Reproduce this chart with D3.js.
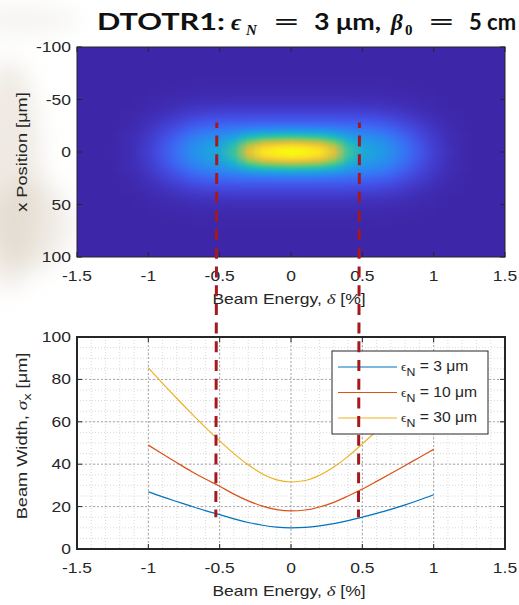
<!DOCTYPE html>
<html>
<head>
<meta charset="utf-8">
<script src="https://cdn.jsdelivr.net/npm/d3@7"></script>
<style>
    body { margin: 0; background: #fff; }
    svg { display: block; }
</style>
</head>
<body>
<script>
const WIDTH = 519, HEIGHT = 605;
const FONT = "'Liberation Sans', Arial, sans-serif";
const SERIF = "'Liberation Serif', 'DejaVu Serif', serif";
const SX = 1.25;      // the figure is stretched along its text lines
const SX_ROT = 1.3;

// heat map samples: energy columns, level of the wide halo and of the bright core
const heatDelta = [-1.5, -1.4, -1.3, -1.2, -1.1, -1.0, -0.9, -0.8, -0.7, -0.6, -0.5, -0.4, -0.3, -0.2, -0.1, 0,
    0.1, 0.2, 0.3, 0.4, 0.5, 0.6, 0.7, 0.8, 0.9, 1.0, 1.1, 1.2, 1.3, 1.4, 1.5];
const haloLevel = [0, 0, 0, 0.01, 0.03, 0.07, 0.13, 0.20, 0.27, 0.32, 0.34, 0.35, 0.35, 0.35, 0.35, 0.35,
    0.35, 0.35, 0.35, 0.35, 0.34, 0.32, 0.27, 0.20, 0.13, 0.07, 0.03, 0.01, 0, 0, 0];
const coreLevel = [0, 0, 0, 0, 0, 0, 0, 0, 0, 0, 0.02, 0.14, 0.40, 0.56, 0.62, 0.65,
    0.62, 0.56, 0.40, 0.14, 0.02, 0, 0, 0, 0, 0, 0, 0, 0, 0, 0];
const HALO_SIGMA = 22, CORE_SIGMA = 10;

// beam width curves
const energy = [-1, -0.9, -0.8, -0.7, -0.6, -0.5, -0.4, -0.3, -0.2, -0.1, 0, 0.1, 0.2, 0.3, 0.4, 0.5, 0.6, 0.7, 0.8, 0.9, 1];
const width3 = [27.0, 24.6, 22.4, 20.2, 18.1, 16.2, 14.2, 12.5, 11.2, 10.3, 10.0, 10.2, 10.9, 12.0, 13.4, 15.0, 16.8, 18.7, 20.8, 23.1, 25.6];
const width10 = [49.0, 44.8, 40.7, 36.7, 33.0, 29.6, 25.9, 22.7, 20.2, 18.6, 18.0, 18.4, 19.8, 22.0, 25.0, 28.3, 31.9, 35.6, 39.4, 43.2, 47.0];
const width30 = [85.4, 78.1, 71.0, 64.1, 57.4, 51.0, 45.0, 39.7, 35.4, 32.6, 31.6, 32.3, 34.8, 38.7, 43.7, 49.6, 55.8, 62.5, 69.4, 76.4, 83.5];
const emittance = ["3", "10", "30"];
const lineColors = ["#0072bd", "#d95319", "#edb120"];

const energyTicks = [-1.5, -1, -0.5, 0, 0.5, 1, 1.5];
const positionTicks = [-100, -50, 0, 50, 100];
const widthTicks = [0, 20, 40, 60, 80, 100];
const cutEnergy = [-0.52, 0.48];

const PLOT = {left: 77, right: 505};
const TOP = {top: 47, bottom: 257};
const BOT = {top: 337, bottom: 549};

const svg = d3.select("body").append("svg")
    .attr("width", WIDTH).attr("height", HEIGHT);

const defs = svg.append("defs");
defs.append("filter").attr("id", "smudge")
    .attr("x", "-100%").attr("y", "-100%").attr("width", "300%").attr("height", "300%")
    .append("feGaussianBlur").attr("stdDeviation", 12);
defs.append("clipPath").attr("id", "heatClip")
    .append("rect")
    .attr("x", PLOT.left).attr("y", TOP.top)
    .attr("width", PLOT.right - PLOT.left).attr("height", TOP.bottom - TOP.top);

// faint photo background at the left edge
const smudge = svg.append("g").attr("filter", "url(#smudge)");
smudge.append("ellipse").attr("cx", 8).attr("cy", 175).attr("rx", 32).attr("ry", 115)
    .attr("fill", "#ddd3c6").attr("opacity", 0.5);
smudge.append("ellipse").attr("cx", 30).attr("cy", 225).attr("rx", 40).attr("ry", 45)
    .attr("fill", "#d8ccbc").attr("opacity", 0.4);
smudge.append("ellipse").attr("cx", 20).attr("cy", 20).attr("rx", 60).attr("ry", 10)
    .attr("fill", "#e4e0da").attr("opacity", 0.5);

function label(g, x, y, str, anchor, size, rotate) {
    let t = g.append("text")
        .attr("transform", "translate(" + x + "," + y + ")" +
            (rotate ? " rotate(-90) scale(" + SX_ROT + ",1)" : " scale(" + SX + ",1)"))
        .attr("text-anchor", anchor)
        .style("font-family", FONT)
        .style("font-size", (size || 14) + "px")
        .style("fill", "#262626");
    if (str !== null) t.text(str);
    return t;
}

// ---------- title ----------
const title = svg.append("g").style("font-weight", "bold").style("fill", "#111");
function titlePart(x, y, str, family, size, italic, len) {
    let t = title.append("text").attr("x", x).attr("y", y)
        .style("font-family", family).style("font-size", size + "px")
        .style("font-style", italic ? "italic" : "normal")
        .text(str);
    if (len) t.attr("textLength", len).attr("lengthAdjust", "spacingAndGlyphs");
}
const TFONT = "Lato, 'Open Sans', sans-serif";
titlePart(97, 30, "DTOTR1:", TFONT, 23, false, 128);
titlePart(231, 30, "\u03f5", SERIF, 24, true);
titlePart(246, 35, "N", SERIF, 15, true);
titlePart(274, 30, "=", SERIF, 24, false, 25);
titlePart(314, 30, "3 \u03bcm,", TFONT, 22, false, 67);
titlePart(391, 30, "\u03b2", SERIF, 23, true);
titlePart(405, 35, "0", SERIF, 15, false);
titlePart(429, 30, "=", SERIF, 24, false, 25);
titlePart(469, 30, "5 cm", TFONT, 22, false);

// ---------- top panel: heat map ----------
let xTop = d3.scaleLinear().domain([-1.5, 1.5]).range([PLOT.left, PLOT.right]);
let yTop = d3.scaleLinear().domain([-100, 100]).range([TOP.top, TOP.bottom]);

const parula = d3.interpolateRgbBasis([
    "rgb(62,38,168)", "rgb(72,82,244)", "rgb(46,135,247)", "rgb(18,177,214)",
    "rgb(55,200,151)", "rgb(148,203,82)", "rgb(233,185,61)", "rgb(252,218,44)", "rgb(249,251,14)"]);
let color = d3.scaleSequential(parula).domain([0, 1]).clamp(true);

const rowsX = d3.range(-100, 101, 2);
const canvas = document.createElement("canvas");
canvas.width = heatDelta.length;
canvas.height = rowsX.length;
const ctx = canvas.getContext("2d");
const img = ctx.createImageData(canvas.width, canvas.height);
heatDelta.forEach(function (d, i) {
    rowsX.forEach(function (x, j) {
        let v = haloLevel[i] * Math.exp(-x * x / (2 * HALO_SIGMA * HALO_SIGMA)) +
            coreLevel[i] * Math.exp(-x * x / (2 * CORE_SIGMA * CORE_SIGMA));
        let c = d3.rgb(color(v));
        let k = (j * canvas.width + i) * 4;
        img.data[k] = c.r; img.data[k + 1] = c.g; img.data[k + 2] = c.b; img.data[k + 3] = 255;
    });
});
ctx.putImageData(img, 0, 0);

svg.append("rect")
    .attr("x", PLOT.left).attr("y", TOP.top)
    .attr("width", PLOT.right - PLOT.left).attr("height", TOP.bottom - TOP.top)
    .attr("fill", color(0));
svg.append("image")
    .attr("clip-path", "url(#heatClip)")
    .attr("href", canvas.toDataURL())
    .attr("preserveAspectRatio", "none")
    .attr("x", xTop(-1.55)).attr("y", yTop(-101))
    .attr("width", xTop(1.55) - xTop(-1.55))
    .attr("height", yTop(101) - yTop(-101));

function drawFrame(top, bottom, xTicks, yScale, yTicks, strokeW) {
    let g = svg.append("g").attr("stroke", "#262626").attr("fill", "none");
    g.append("rect").attr("x", PLOT.left).attr("y", top)
        .attr("width", PLOT.right - PLOT.left).attr("height", bottom - top)
        .attr("stroke-width", strokeW);
    xTicks.forEach(function (t) {
        let x = xTop(t);
        g.append("line").attr("x1", x).attr("x2", x).attr("y1", bottom).attr("y2", bottom - 5);
        g.append("line").attr("x1", x).attr("x2", x).attr("y1", top).attr("y2", top + 5);
    });
    yTicks.forEach(function (t) {
        let y = yScale(t);
        g.append("line").attr("x1", PLOT.left).attr("x2", PLOT.left + 5).attr("y1", y).attr("y2", y);
        g.append("line").attr("x1", PLOT.right).attr("x2", PLOT.right - 5).attr("y1", y).attr("y2", y);
    });
}
drawFrame(TOP.top, TOP.bottom, energyTicks, yTop, positionTicks, 1);

energyTicks.forEach(function (t) {
    label(svg, xTop(t), 281, String(t), "middle");
});
positionTicks.forEach(function (t) {
    label(svg, 71, yTop(t) + 5, String(t), "end");
});
let tx = label(svg, 289, 304, null, "middle");
tx.append("tspan").text("Beam Energy,  ");
tx.append("tspan").style("font-family", SERIF).style("font-style", "italic").style("font-size", "15px").text("\u03b4");
tx.append("tspan").text(" [%]");
label(svg, 27, 152, "x Position [\u03bcm]", "middle", 14, true);

// ---------- bottom panel: beam width ----------
let yBot = d3.scaleLinear().domain([0, 100]).range([BOT.bottom, BOT.top]);

const grid = svg.append("g").attr("fill", "none");
d3.range(-1.5, 1.501, 0.1).forEach(function (t) {
    grid.append("line").attr("x1", xTop(t)).attr("x2", xTop(t)).attr("y1", BOT.top).attr("y2", BOT.bottom)
        .attr("stroke", "#d9d9d9").attr("stroke-dasharray", "1,2");
});
d3.range(0, 101, 5).forEach(function (t) {
    grid.append("line").attr("x1", PLOT.left).attr("x2", PLOT.right).attr("y1", yBot(t)).attr("y2", yBot(t))
        .attr("stroke", "#d9d9d9").attr("stroke-dasharray", "1,2");
});
energyTicks.forEach(function (t) {
    grid.append("line").attr("x1", xTop(t)).attr("x2", xTop(t)).attr("y1", BOT.top).attr("y2", BOT.bottom)
        .attr("stroke", "#a8a8a8").attr("stroke-dasharray", "2,2");
});
widthTicks.forEach(function (t) {
    grid.append("line").attr("x1", PLOT.left).attr("x2", PLOT.right).attr("y1", yBot(t)).attr("y2", yBot(t))
        .attr("stroke", "#a8a8a8").attr("stroke-dasharray", "2,2");
});

const series = [width3, width10, width30];
let line = d3.line().x((d, i) => xTop(energy[i])).y(d => yBot(d)).curve(d3.curveMonotoneX);
series.forEach(function (s, k) {
    svg.append("path").datum(s)
        .attr("fill", "none")
        .attr("stroke", lineColors[k])
        .attr("stroke-width", 1.2)
        .attr("d", line);
});

drawFrame(BOT.top, BOT.bottom, energyTicks, yBot, widthTicks, 2);

energyTicks.forEach(function (t) {
    label(svg, xTop(t), 573, String(t), "middle");
});
widthTicks.forEach(function (t) {
    label(svg, 71, yBot(t) + 5, String(t), "end");
});
let bx = label(svg, 289, 596, null, "middle");
bx.append("tspan").text("Beam Energy,  ");
bx.append("tspan").style("font-family", SERIF).style("font-style", "italic").style("font-size", "15px").text("\u03b4");
bx.append("tspan").text(" [%]");
let by = label(svg, 27, 436, null, "middle", 14, true);
by.append("tspan").text("Beam Width, ");
by.append("tspan").style("font-family", SERIF).style("font-style", "italic").style("font-size", "15px").text("\u03c3");
by.append("tspan").attr("dy", 4).style("font-size", "11px").text("x");
by.append("tspan").attr("dy", -4).text(" [\u03bcm]");

// legend
const legend = svg.append("g");
legend.append("rect").attr("x", 332).attr("y", 351).attr("width", 156).attr("height", 83)
    .attr("fill", "#fff").attr("stroke", "#262626").attr("stroke-width", 1);
emittance.forEach(function (e, k) {
    let y = 367 + k * 25.5;
    legend.append("line").attr("x1", 338).attr("x2", 397).attr("y1", y).attr("y2", y)
        .attr("stroke", lineColors[k]).attr("stroke-width", 1.2);
    let t = legend.append("text")
        .attr("transform", "translate(401," + (y + 4) + ") scale(1.12,1)")
        .style("font-family", FONT).style("font-size", "14px").style("fill", "#262626");
    t.append("tspan").style("font-family", SERIF).style("font-size", "12px").text("\u03f5");
    t.append("tspan").attr("dy", 5).style("font-size", "11px").text("N");
    t.append("tspan").attr("dy", -5).text(" = " + e + " \u03bcm");
});

// dashed cut lines spanning both panels
cutEnergy.forEach(function (d) {
    svg.append("line")
        .attr("x1", xTop(d)).attr("x2", xTop(d) - 1)
        .attr("y1", yTop(-28)).attr("y2", yBot(15))
        .attr("stroke", "#a3191f")
        .attr("stroke-width", 3)
        .attr("stroke-dasharray", "11,7.7")
        .attr("stroke-dashoffset", 5.7);
});
</script>
</body>
</html>
